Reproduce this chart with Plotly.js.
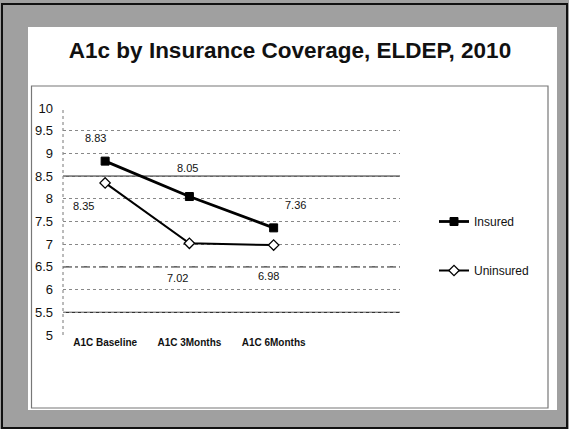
<!DOCTYPE html>
<html>
<head>
<meta charset="utf-8">
<script src="https://cdn.plot.ly/plotly-3.0.1.min.js"></script>
<style>html,body{margin:0;padding:0;background:#a4a4a4;}#chart{width:569px;height:429px;}</style>
</head>
<body>
<div id="chart"></div>
<script>
// ---- data ----
var categories = ["A1C Baseline", "A1C 3Months", "A1C 6Months"];
var insured = [8.83, 8.05, 7.36];
var uninsured = [8.35, 7.02, 6.98];
var seriesNames = ["Insured", "Uninsured"];
var yTicks = [5, 5.5, 6, 6.5, 7, 7.5, 8, 8.5, 9, 9.5, 10];
var yTickText = ["5", "5.5", "6", "6.5", "7", "7.5", "8", "8.5", "9", "9.5", "10"];
var solidGrid = [8.5, 5.5];
var dashGrid = [6.5];

// ---- layout helpers (pixel geometry of the frame) ----
var W = 569, H = 429;
var M = {l: 63, r: 169, t: 108, b: 94};
var pw = W - M.l - M.r, ph = H - M.t - M.b;
function px(x) { return (x - M.l) / pw; }
function py(y) { return (H - M.b - y) / ph; }

var xIdx = categories.map(function (_, i) { return i; });

var font = "Liberation Sans, Arial, sans-serif";

var traces = [
  {
    x: xIdx, y: insured, name: seriesNames[0], mode: "lines+markers",
    line: {color: "#000", width: 2.8},
    marker: {symbol: "square", size: 8, color: "#000", line: {color: "#000", width: 1}},
    legendgroup: "a"
  },
  {
    x: xIdx, y: uninsured, name: seriesNames[1], mode: "lines+markers",
    line: {color: "#000", width: 2},
    marker: {symbol: "diamond", size: 8, color: "#fff", line: {color: "#000", width: 1.3}},
    legendgroup: "b"
  }
];

// label offsets (pixels) for data labels
var insOff = [[-10, 23], [-2, 29], [22, 23]];
var unOff = [[-22, -23], [-12, -35], [-5, -31]];
var annotations = [];
insured.forEach(function (v, i) {
  annotations.push({x: i, y: v, xref: "x", yref: "y", text: v.toFixed(2), showarrow: false,
    xshift: insOff[i][0], yshift: insOff[i][1], font: {family: font, size: 11, color: "#111"}});
});
uninsured.forEach(function (v, i) {
  annotations.push({x: i, y: v, xref: "x", yref: "y", text: v.toFixed(2), showarrow: false,
    xshift: unOff[i][0], yshift: unOff[i][1], font: {family: font, size: 11, color: "#111"}});
});

var shapes = [
  // outer black border
  {type: "rect", xref: "paper", yref: "paper", x0: px(2), x1: px(567), y0: py(428), y1: py(4),
   line: {color: "#111", width: 2}, fillcolor: "rgba(0,0,0,0)", layer: "below"},
  // white slide
  {type: "rect", xref: "paper", yref: "paper", x0: px(28), x1: px(557), y0: py(410), y1: py(27),
   line: {width: 0}, fillcolor: "#fff", layer: "below"},
  // inner chart box
  {type: "rect", xref: "paper", yref: "paper", x0: px(31.5), x1: px(548), y0: py(408), y1: py(86),
   line: {color: "#777", width: 1.2}, fillcolor: "rgba(0,0,0,0)", layer: "below"},
  // left plot edge dotted
  {type: "line", xref: "paper", yref: "paper", x0: 0, x1: 0, y0: 0, y1: 1,
   line: {color: "#777", width: 1, dash: "dot"}, layer: "below"}
];
solidGrid.forEach(function (g) {
  shapes.push({type: "line", xref: "paper", yref: "y", x0: 0, x1: 1, y0: g, y1: g,
    line: {color: "#333", width: 1.2}, layer: "below"});
});
dashGrid.forEach(function (g) {
  shapes.push({type: "line", xref: "paper", yref: "y", x0: 0, x1: 1, y0: g, y1: g,
    line: {color: "#333", width: 1.2, dash: "dashdot"}, layer: "below"});
});

var layout = {
  width: W, height: H,
  margin: M,
  paper_bgcolor: "#a0a0a0",
  plot_bgcolor: "rgba(0,0,0,0)",
  showlegend: true,
  title: {
    text: "<b>A1c by Insurance Coverage, ELDEP, 2010</b>",
    font: {family: font, size: 22.5, color: "#111"},
    xref: "container", yref: "container", x: 290 / W, xanchor: "center",
    y: 1 - 50 / H, yanchor: "middle"
  },
  xaxis: {
    range: [-0.5, 3.5], tickvals: xIdx, ticktext: categories,
    showgrid: false, zeroline: false, showline: false, ticks: "",
    tickfont: {family: font, size: 10, color: "#111", weight: 600},
    fixedrange: true
  },
  yaxis: {
    range: [5, 10], tickvals: yTicks, ticktext: yTickText,
    showgrid: true, gridcolor: "#888", griddash: "dot", gridwidth: 1,
    zeroline: false, showline: false, ticks: "", ticklabelstandoff: 9,
    tickfont: {family: font, size: 13, color: "#111"},
    fixedrange: true
  },
  legend: {
    x: px(434), xanchor: "left", y: py(246), yanchor: "middle",
    font: {family: font, size: 12, color: "#111"},
    bgcolor: "rgba(0,0,0,0)", tracegroupgap: 30, itemwidth: 30
  },
  annotations: annotations,
  shapes: shapes
};

Plotly.newPlot("chart", traces, layout, {displayModeBar: false, staticPlot: true});
</script>
</body>
</html>
